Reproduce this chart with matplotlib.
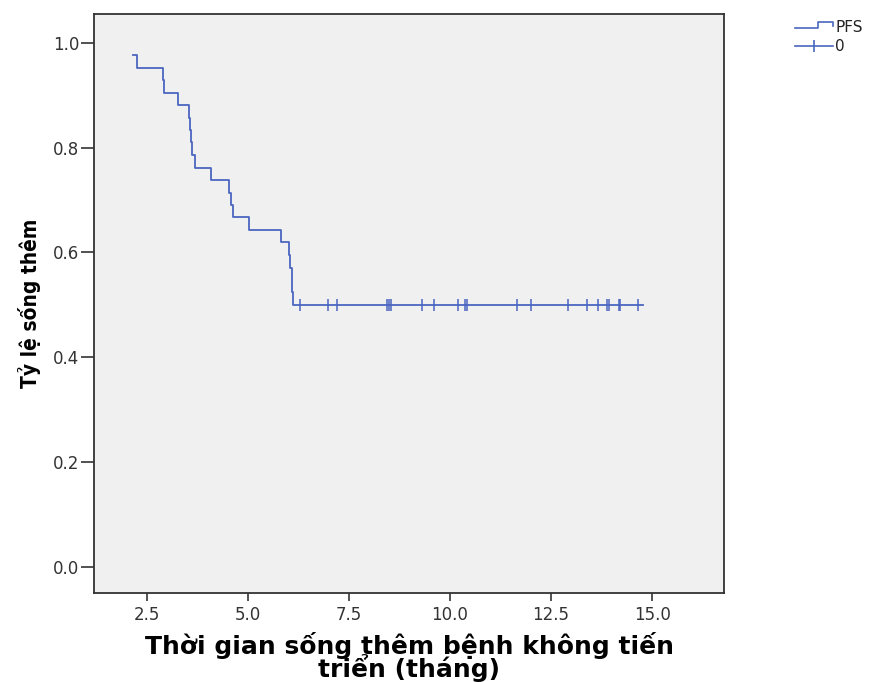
import matplotlib
matplotlib.use("Agg")
import matplotlib.pyplot as plt
from matplotlib.lines import Line2D
from matplotlib.legend_handler import HandlerBase

# ---- data ----
event_times = [2.16, 2.25, 2.89, 2.92, 3.26, 3.53, 3.56, 3.59, 3.61, 3.69,
               4.08, 4.54, 4.57, 4.62, 5.02, 5.82, 6.01, 6.05, 6.08, 6.10, 6.12]
survival = [0.976, 0.952, 0.929, 0.905, 0.881, 0.857, 0.833, 0.810, 0.786, 0.762,
            0.738, 0.714, 0.690, 0.667, 0.643, 0.619, 0.595, 0.571, 0.548, 0.524, 0.500]
censor_times = [6.29, 6.98, 7.20, 8.44, 8.49, 8.54, 9.31, 9.60, 10.20, 10.37, 10.42,
                11.66, 12.00, 12.92, 13.39, 13.66, 13.89, 13.94, 14.18, 14.21, 14.65]
censor_surv = [0.5] * len(censor_times)
end_time = 14.78
x_ticks = [2.5, 5.0, 7.5, 10.0, 12.5, 15.0]
y_ticks = [0.0, 0.2, 0.4, 0.6, 0.8, 1.0]
legend_labels = ["PFS", "0"]

LINE = "#4a66c0"

fig = plt.figure(figsize=(8.81, 6.82), dpi=100)
ax = fig.add_axes([94/881, 1-593/682, (724-94)/881, (593-14)/682])
ax.set_facecolor("#f0f0f0")

# step curve
xs = event_times + [end_time]
ys = survival + [survival[-1]]
ax.step(xs, ys, where="post", color=LINE, lw=1.3)
ax.plot(censor_times, censor_surv, linestyle="none", marker="|",
        markersize=9, markeredgewidth=1.3, color=LINE, alpha=0.85)

ax.set_xlim(1.19, 16.78)
ax.set_ylim(-0.05, 1.055)
ax.set_xticks(x_ticks)
ax.set_xticklabels([f"{v:.1f}" for v in x_ticks])
ax.set_yticks(y_ticks)
ax.set_yticklabels([f"{v:.1f}" for v in y_ticks])

for s in ax.spines.values():
    s.set_color("#333333")
    s.set_linewidth(1.3)

ax.tick_params(axis="x", length=6, width=1.2, color="#333333", pad=3,
               labelsize=12, labelcolor="#333333")
ax.tick_params(axis="y", length=9.5, width=1.2, color="#333333", pad=1,
               labelsize=12, labelcolor="#333333")
for lab in ax.get_xticklabels() + ax.get_yticklabels():
    lab.set_family(["DejaVu Sans"])

ax.set_xlabel("Thời gian sống thêm bệnh không tiến\ntriển (tháng)",
              family=["DejaVu Sans"], fontweight="bold", fontsize=18,
              linespacing=0.8, labelpad=6)
ax.set_ylabel("Tỷ lệ sống thêm", family=["DejaVu Sans"], fontstretch="condensed",
              fontweight="bold", fontsize=15, labelpad=9)


class HandlerStep(HandlerBase):
    def create_artists(self, legend, orig_handle, xdescent, ydescent,
                       width, height, fontsize, trans):
        x0, y0 = -xdescent, -ydescent
        xx = [x0, x0 + 0.6*width, x0 + 0.6*width, x0 + width, x0 + width]
        yy = [y0 + 0.3*height, y0 + 0.3*height, y0 + 0.95*height,
              y0 + 0.95*height, y0 + 0.55*height]
        ln = Line2D(xx, yy, color=LINE, lw=1.2, transform=trans)
        return [ln]


h_step = Line2D([], [], color=LINE)
h_cens = Line2D([], [], color=LINE, lw=1.2, marker="|", markersize=9,
                markeredgewidth=1.2)
leg = fig.legend([h_step, h_cens], legend_labels,
                 handler_map={h_step: HandlerStep()},
                 loc="upper left", bbox_to_anchor=(784/881, 1-9/682),
                 frameon=False, fontsize=11, handlelength=2.5,
                 handletextpad=0.15, labelspacing=0.3, borderpad=0.2)
for t in leg.get_texts():
    t.set_family(["DejaVu Sans"])
    t.set_color("#222222")

fig.savefig("out.png", dpi=100, facecolor="white")
